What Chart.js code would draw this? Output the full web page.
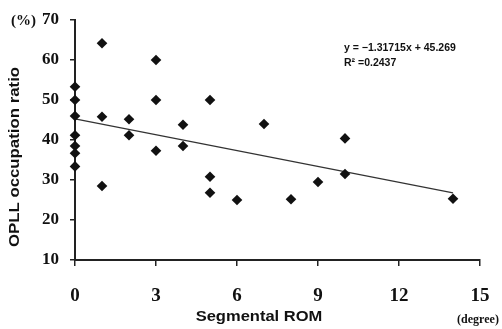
<!DOCTYPE html>
<html>
<head>
<meta charset="utf-8">
<script src="https://cdn.jsdelivr.net/npm/chart.js@4"></script>
<style>
  html, body { margin: 0; padding: 0; background: #fff; }
  #wrap { width: 502px; height: 329px; position: relative; }
</style>
</head>
<body>
<div id="wrap"><canvas id="chart"></canvas></div>
<script>
// segmental ROM (degree) vs OPLL occupation ratio (%)
const romValues = [0, 0, 0, 0, 0, 0, 0, 1, 1, 1, 2, 2, 3, 3, 3, 4, 4, 5, 5, 5, 6, 7, 8, 9, 10, 10, 14];
const ratioValues = [53.3, 50, 46, 41.2, 38.5, 36.7, 33.4, 64.2, 45.8, 28.5, 45.2, 41.2, 60, 50, 37.3, 43.8, 38.5, 50, 30.8, 26.8, 25, 44, 25.2, 29.5, 40.4, 31.5, 25.3];

// regression line ends as drawn
const trendX = [0, 14];
const trendY = [45.3, 26.8];

const xTicks = [0, 3, 6, 9, 12, 15];
const yTicks = [10, 20, 30, 40, 50, 60, 70];

const equationLines = ["y = \u22121.31715x + 45.269", "R\u00b2 =0.2437"];

const points = romValues.map((x, i) => ({ x, y: ratioValues[i] }));
const trend = trendX.map((x, i) => ({ x, y: trendY[i] }));

// wide bold sans, like the scanned figure
function wideText(ctx, text, x, y, rot, sx) {
  ctx.save();
  ctx.translate(x, y);
  if (rot) ctx.rotate(rot);
  ctx.scale(sx, 1);
  ctx.fillText(text, 0, 0);
  ctx.restore();
}

const annotations = {
  id: "annotations",
  afterDraw(chart) {
    const { ctx } = chart;
    ctx.save();
    ctx.fillStyle = "#111";
    ctx.textBaseline = "middle";

    ctx.font = "bold 15px 'Liberation Serif'";
    ctx.textAlign = "left";
    ctx.fillText("(%)", 11, 21);

    ctx.font = "bold 12px 'Liberation Serif'";
    ctx.textAlign = "center";
    ctx.fillText("(degree)", 478, 320);

    ctx.font = "bold 10.5px 'Liberation Sans'";
    ctx.textAlign = "left";
    ctx.fillText(equationLines[0], 344, 48);
    ctx.fillText(equationLines[1], 344, 63);

    ctx.font = "bold 14px 'Liberation Sans'";
    ctx.textAlign = "center";
    wideText(ctx, "Segmental ROM", 259, 317, 0, 1.18);
    wideText(ctx, "OPLL occupation ratio", 15, 157, -Math.PI / 2, 1.2);
    ctx.restore();
  },
};

new Chart(document.getElementById("chart"), {
  type: "scatter",
  data: {
    datasets: [
      {
        label: "data",
        data: points,
        pointStyle: "rectRot",
        pointRadius: 5.3,
        backgroundColor: "#111",
        borderColor: "#111",
        borderWidth: 0,
        clip: false,
      },
      {
        type: "line",
        label: "trend",
        data: trend,
        borderColor: "#333",
        borderWidth: 1.2,
        pointRadius: 0,
        fill: false,
        clip: false,
      },
    ],
  },
  options: {
    responsive: true,
    maintainAspectRatio: false,
    animation: false,
    layout: { padding: { top: 20, right: 22, bottom: 0, left: 0 } },
    plugins: { legend: { display: false }, tooltip: { enabled: false } },
    scales: {
      x: {
        type: "linear",
        min: 0,
        max: 15,
        afterFit: (s) => { s.height = 69; s.paddingLeft = 0; s.paddingRight = 0; },
        afterBuildTicks: (s) => { s.ticks = xTicks.map((v) => ({ value: v })); },
        grid: { drawOnChartArea: false, drawTicks: true, tickLength: 6, color: "#222", lineWidth: 1.5 },
        border: { display: true, color: "#222", width: 2 },
        ticks: {
          color: "#111",
          padding: 19,
          font: { family: "'Liberation Serif'", size: 19, weight: "bold" },
        },
      },
      y: {
        min: 10,
        max: 70,
        afterFit: (s) => { s.width = 75; s.paddingTop = 0; s.paddingBottom = 0; },
        afterBuildTicks: (s) => { s.ticks = yTicks.map((v) => ({ value: v })); },
        grid: { drawOnChartArea: false, drawTicks: true, tickLength: 5, color: "#222", lineWidth: 1.5 },
        border: { display: true, color: "#222", width: 2 },
        ticks: {
          color: "#111",
          padding: 11,
          font: { family: "'Liberation Serif'", size: 17, weight: "bold" },
        },
      },
    },
  },
  plugins: [annotations],
});
</script>
</body>
</html>
